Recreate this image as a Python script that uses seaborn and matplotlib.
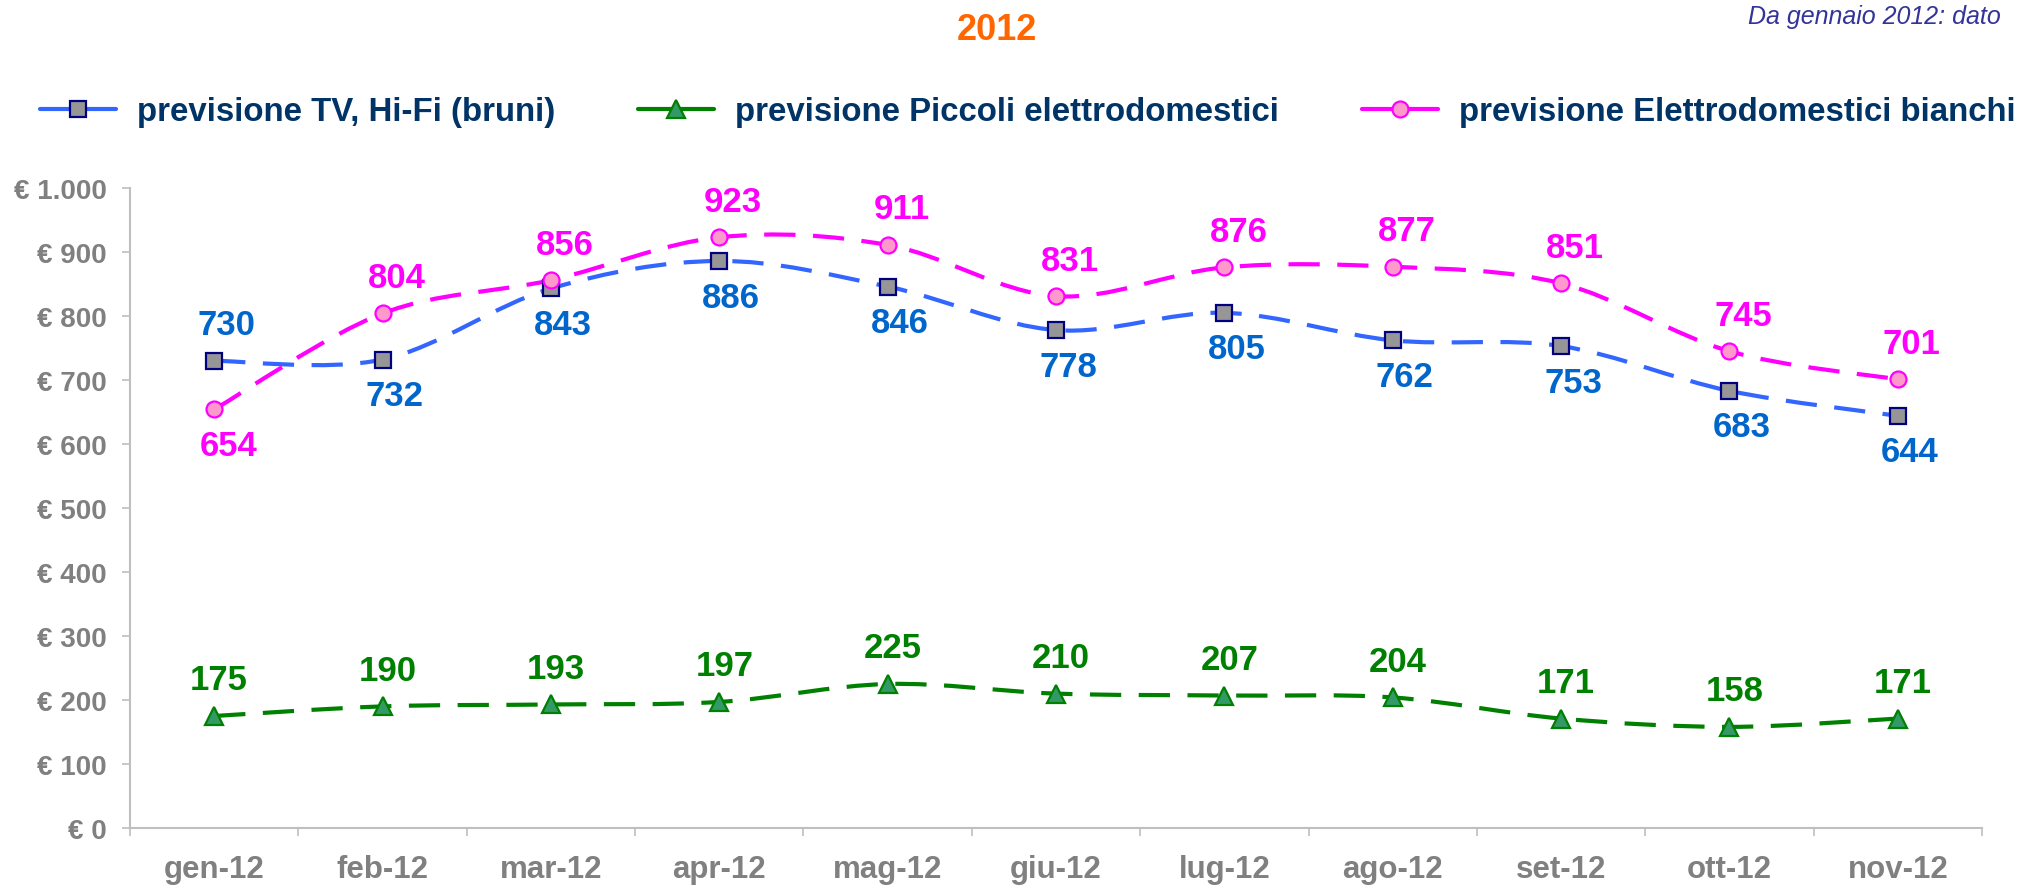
import numpy as np
import matplotlib
matplotlib.use("Agg")
import matplotlib.pyplot as plt
import seaborn as sns
from matplotlib.path import Path
from matplotlib.patches import PathPatch
from matplotlib.lines import Line2D
from matplotlib.ticker import FuncFormatter

months = ["gen-12", "feb-12", "mar-12", "apr-12", "mag-12", "giu-12",
          "lug-12", "ago-12", "set-12", "ott-12", "nov-12"]
tv_hifi = [730, 732, 843, 886, 846, 778, 805, 762, 753, 683, 644]
piccoli = [175, 190, 193, 197, 225, 210, 207, 204, 171, 158, 171]
bianchi = [654, 804, 856, 923, 911, 831, 876, 877, 851, 745, 701]
labels = ["previsione TV, Hi-Fi (bruni)",
          "previsione Piccoli elettrodomestici",
          "previsione Elettrodomestici bianchi"]

sns.set_style("white")
plt.rcParams["font.family"] = ["Liberation Sans", "DejaVu Sans"]
plt.rcParams["font.weight"] = "bold"


def smooth_path(xs, ys):
    # Excel-like smoothed line: cubic bezier through the points
    pts = np.column_stack([xs, ys]).astype(float)
    ext = np.vstack([pts[0], pts, pts[-1]])
    verts = [pts[0]]
    codes = [Path.MOVETO]
    for i in range(len(pts) - 1):
        p0, p1, p2, p3 = ext[i], ext[i + 1], ext[i + 2], ext[i + 3]
        verts += [p1 + (p2 - p0) / 6, p2 - (p3 - p1) / 6, p2]
        codes += [Path.CURVE4] * 3
    return Path(verts, codes)


fig = plt.figure(figsize=(20.17, 8.87), dpi=100)
ax = fig.add_axes([130 / 2017, 1 - 829 / 887, 1852 / 2017, 640 / 887])

x = np.arange(len(months))
dash = (0, (7.5, 4.2))

series = [
    # values, line color, marker, face, edge, msize, label color, side, dx
    (tv_hifi, "#3366FF", "s", "#969696", "#000080", 11, "#0066CC",
     [1] + [-1] * 10, 12),
    (piccoli, "#008000", "^", "#339966", "#008000", 13, "#008000",
     [1] * 11, 5),
    (bianchi, "#FF00FF", "o", "#FF99CC", "#FF00FF", 11.5, "#FF00FF",
     [-1] + [1] * 10, 14),
]

handles = []
for vals, lc, mk, fc, ec, ms, tc, side, dx in series:
    ax.add_patch(PathPatch(smooth_path(x, vals), fill=False, edgecolor=lc,
                           lw=3, linestyle=dash, capstyle="butt", zorder=2))
    sns.lineplot(x=x, y=vals, ax=ax, marker=mk, linestyle="", markersize=ms,
                 markerfacecolor=fc, markeredgecolor=ec, markeredgewidth=1.6,
                 color=lc, zorder=3)
    for xi, v, s in zip(x, vals, side):
        ax.annotate(str(v), (xi, v), xytext=(dx * 0.72, 26 * s),
                    textcoords="offset points", ha="center", va="center",
                    fontsize=25, fontweight="bold", color=tc)
    handles.append(Line2D([], [], color=lc, lw=3, marker=mk, markersize=ms,
                          markerfacecolor=fc, markeredgecolor=ec,
                          markeredgewidth=1.6))

ax.set_xlim(-0.5, len(months) - 0.5)
ax.set_ylim(0, 1000)
ax.set_yticks(np.arange(0, 1001, 100))
ax.yaxis.set_major_formatter(
    FuncFormatter(lambda v, p: "€ " + f"{v:,.0f}".replace(",", ".")))
ax.set_xticks(x, labels=months)
ax.set_xticks(np.arange(-0.5, len(months), 1), minor=True)

gray = "#BFBFBF"
for side in ["top", "right"]:
    ax.spines[side].set_visible(False)
for side in ["left", "bottom"]:
    ax.spines[side].set_color(gray)
    ax.spines[side].set_linewidth(1.5)

ax.tick_params(axis="y", length=6, width=1.2, color=gray, pad=11,
               labelsize=20, labelcolor="#808080", left=True)
ax.tick_params(axis="x", which="major", length=0, pad=19, labelsize=22.5,
               labelcolor="#808080")
ax.tick_params(axis="x", which="minor", length=6, width=1.2, color=gray,
               direction="out", bottom=True)
for t in ax.get_xticklabels() + ax.get_yticklabels():
    t.set_fontweight("bold")
ax.set_xlabel("")
ax.set_ylabel("")
ax.grid(False)

fig.legend(handles, labels, ncol=3, loc="center left",
           bbox_to_anchor=(40 / 2017, 1 - 113 / 887), frameon=False,
           handlelength=2.3, handletextpad=0.64,
           columnspacing=2.5, borderpad=0, borderaxespad=0,
           labelcolor="#003366", prop={"weight": "bold", "size": 23.8})

fig.text(997 / 2017, 1 - 30 / 887, "2012", ha="center", va="center",
         fontsize=26, fontweight="bold", color="#FF6600")
fig.text(1748 / 2017, 1 - 17 / 887, "Da gennaio 2012: dato", ha="left",
         va="center", fontsize=18, fontstyle="italic", fontweight="normal",
         color="#333399")

fig.savefig("out.png", dpi=100)
